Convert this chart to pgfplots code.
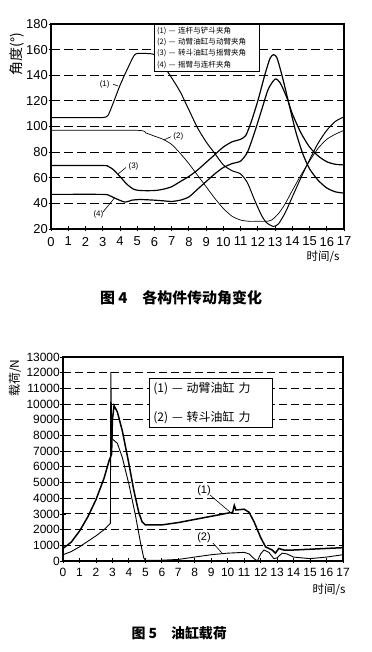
\documentclass[border=0pt]{standalone}
\usepackage{fontspec}
\setmainfont{Liberation Sans}
\newfontfamily\cjk{Noto Sans CJK SC}
\usepackage{pgfplots}
\pgfplotsset{compat=1.18}
\begin{document}
\begin{tikzpicture}
\useasboundingbox (0,0) rectangle (372bp,652bp);
% ---------------- Fig 4 ----------------
\begin{axis}[at={(51bp,423bp)}, anchor=south west, scale only axis,
  width=293bp, height=205bp,
  xmin=0, xmax=17, ymin=20, ymax=180,
  xtick={0,...,17}, ytick={20,40,...,180},
  ymajorgrids, major grid style={black, line width=1bp, dash pattern=on 9bp off 4bp},
  axis line style={line width=1.1bp},
  tick style={black, line width=0.8bp}, tick align=center, tick pos=left,
  major tick length=5bp,
  ticklabel style={font=\fontsize{13}{13}\selectfont},
  /pgf/number format/assume math mode=true,
  xticklabel style={inner xsep=0pt, yshift=-2bp},
  yticklabel style={inner xsep=0.5bp},
]
\addplot[black, line width=1bp, smooth, tension=0.4] coordinates {
(0,107)(1,107)(2,107)(3,107)(3.3,108.5)(3.6,118)(4,132)(4.4,144)(4.8,155)(5,157)(5.5,157)(6,156)(6.5,148)(7,138)(7.5,127)(8,113)(8.5,99)(9,88)(9.5,79)(10,70)(10.5,65.5)(11,63)(11.4,56)(11.8,43)(12.2,31)(12.5,25)(12.9,22)(13.2,24)(13.6,33)(14,45)(14.5,60)(15,74)(15.5,87)(16,97)(16.5,104)(17,107.5)};
\addplot[black, line width=0.7bp, smooth, tension=0.4] coordinates {
(0,97)(5,97)(5.5,95)(6,92.5)(6.5,90)(7,86)(7.5,79)(8,71)(8.5,62)(9,53)(9.5,44)(10,36)(10.5,30)(11,27)(11.5,26)(12,26)(12.5,26)(12.8,27)(13.2,32)(13.6,40)(14,50)(14.5,62)(15,73)(15.5,83)(16,90)(16.5,94)(17,97)};
\addplot[black, line width=1.2bp, smooth, tension=0.4] coordinates {
(0,69.5)(3,69.5)(3.3,69)(3.6,66.5)(4,61)(4.4,55)(4.8,51)(5.2,50)(6,50)(6.5,51)(7,53)(7.5,57)(8,61)(8.5,66)(9,72)(9.5,78)(10,84)(10.5,88)(11,90)(11.3,93)(11.6,103)(12,120)(12.4,140)(12.7,153)(12.9,156)(13.1,154)(13.4,140)(13.8,118)(14.2,96)(14.6,79)(15,67)(15.5,58)(16,52)(16.5,49)(17,48)};
\addplot[black, line width=1.2bp, smooth, tension=0.4] coordinates {
(0,47)(3,47)(3.4,46)(3.8,43.5)(4.3,41)(4.7,42.5)(5.2,43)(6,42.5)(6.5,42)(7,41.5)(7.5,42.5)(8,45)(8.5,51)(9,57)(9.5,63)(10,68)(10.5,71)(11,73)(11.4,80)(11.8,95)(12.2,112)(12.6,129)(13,137)(13.3,134)(13.7,122)(14,110)(14.5,95)(15,84)(15.5,77)(16,72.5)(16.5,70.5)(17,70)};
% curve labels
\node[font=\fontsize{8}{8}\selectfont, anchor=east] at (axis cs:3.6,133) {(1)};
\draw[black, line width=0.6bp] (axis cs:3.6,133) -- (axis cs:3.9,131.5);
\node[font=\fontsize{8}{8}\selectfont, anchor=west] at (axis cs:6.9,92.5) {(2)};
\draw[black, line width=0.6bp] (axis cs:6.95,92) -- (axis cs:6.55,89.5);
\node[font=\fontsize{8}{8}\selectfont, anchor=west] at (axis cs:4.3,69) {(3)};
\draw[black, line width=0.6bp] (axis cs:4.35,68) -- (axis cs:3.9,63);
\node[font=\fontsize{8}{8}\selectfont] at (axis cs:2.75,31) {(4)};
\draw[black, line width=0.6bp] (axis cs:3.0,33) -- (axis cs:3.7,44.5);
% legend
\node[draw, line width=0.8bp, fill=white, anchor=north west, align=left, inner sep=2.5bp,
  font=\cjk\fontsize{7.6}{11.4}\selectfont, text width=100bp] at (rel axis cs:0.352,1)
 {(1) — 连杆与铲斗夹角\\(2) — 动臂油缸与动臂夹角\\(3) — 转斗油缸与摇臂夹角\\(4) — 摇臂与连杆夹角};
\end{axis}
\node[rotate=90, font=\cjk\fontsize{14}{14}\selectfont] at (17bp,598bp) {角度(°)};
\node[font=\cjk\fontsize{11.5}{12}\selectfont] at (323bp,395bp) {时间/s};
\node[font=\cjk\bfseries\fontsize{15}{15}\selectfont] at (181bp,354bp) {图 4\quad 各构件传动角变化};
% ---------------- Fig 5 ----------------
\begin{axis}[at={(63bp,91bp)}, anchor=south west, scale only axis,
  width=280bp, height=204bp,
  xmin=0, xmax=17, ymin=0, ymax=13000,
  xtick={0,...,17}, ytick={0,1000,...,13000},
  ymajorgrids, major grid style={black, line width=1bp, dash pattern=on 8bp off 4bp},
  axis line style={line width=1.1bp},
  tick style={black, line width=0.8bp}, tick align=center, tick pos=left,
  major tick length=5bp,
  ticklabel style={font=\fontsize{12}{12}\selectfont},
  /pgf/number format/assume math mode=true,
  /pgf/number format/1000 sep={},
  scaled y ticks=false,
  xticklabel style={inner xsep=0pt, yshift=-1bp},
  yticklabel style={inner xsep=0.5bp},
]
\addplot[black, line width=1.5bp] coordinates {
(0,800)(0.5,1200)(1,1900)(1.5,2800)(2,3900)(2.5,5300)(2.8,6400)(2.95,6800)(3.0,9000)(3.1,9900)(3.3,9500)(3.6,8300)(4,6200)(4.3,4500)(4.6,3100)(4.8,2500)(5,2300)(6,2300)(7,2450)(8,2650)(9,2850)(10,3050)(10.3,3100)(10.4,3550)(10.5,3250)(11,3300)(11.3,3100)(11.6,2500)(12,1500)(12.3,900)(12.7,700)(12.9,500)(13.1,800)(13.4,700)(14,700)(15,750)(16,800)(17,850)};
\addplot[black, line width=0.9bp] coordinates {
(0,400)(0.5,600)(1,900)(1.5,1250)(2,1600)(2.5,2000)(2.88,2400)(2.9,12050)(2.97,7800)(3.3,7500)(3.6,6600)(4,4900)(4.4,2900)(4.7,1200)(4.9,200)(5,50)(6,50)(7,100)(8,250)(9,400)(10,500)(11,550)(11.3,450)(11.6,150)(11.8,0)(12,450)(12.2,700)(12.5,550)(12.8,150)(13,200)(13.3,500)(13.6,450)(14,250)(15,150)(16,250)(17,400)};
\node[font=\fontsize{11}{11}\selectfont] at (axis cs:8.56,4460) {(1)};
\draw[black, line width=0.6bp] (axis cs:8.93,4200) -- (axis cs:10.14,3120);
\node[font=\fontsize{11}{11}\selectfont] at (axis cs:8.56,1466) {(2)};
\draw[black, line width=0.6bp] (axis cs:9.1,1150) -- (axis cs:9.65,510);
\node[draw, line width=0.8bp, fill=white, anchor=north west, align=left, inner sep=4bp,
  font=\cjk\fontsize{12}{29}\selectfont, text width=115bp] at (rel axis cs:0.307,0.897)
 {(1) — 动臂油缸\ 力\\(2) — 转斗油缸\ 力};
\end{axis}
\node[rotate=90, font=\cjk\fontsize{12}{12}\selectfont] at (15bp,274bp) {载荷/N};
\node[font=\cjk\fontsize{11.5}{12}\selectfont] at (329bp,62bp) {时间/s};
\node[font=\cjk\bfseries\fontsize{14}{14}\selectfont, anchor=west] at (128bp,19bp) {图 5\quad 油缸载荷};
\end{tikzpicture}
\end{document}
